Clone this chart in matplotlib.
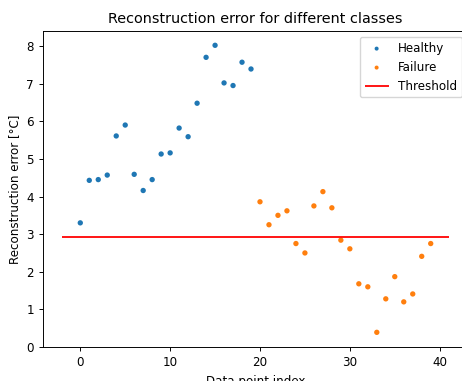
import matplotlib
matplotlib.use("Agg")
import matplotlib.pyplot as plt

healthy_x = list(range(0, 20))
healthy_y = [3.30, 4.43, 4.45, 4.57, 5.61, 5.90, 4.59, 4.16, 4.45, 5.13,
             5.16, 5.82, 5.59, 6.48, 7.70, 8.02, 7.02, 6.95, 7.57, 7.39]
failure_x = list(range(20, 40))
failure_y = [3.86, 3.25, 3.50, 3.62, 2.75, 2.50, 3.75, 4.13, 3.70, 2.84,
             2.61, 1.68, 1.60, 0.39, 1.28, 1.87, 1.20, 1.41, 2.41, 2.75]
threshold = 2.93
thr_range = [-2, 41]

k = 0.86
plt.rcParams.update({
    "font.size": 10 * k,
    "axes.titlesize": 12 * k,
    "axes.linewidth": 0.8 * k,
    "xtick.major.width": 0.8 * k,
    "ytick.major.width": 0.8 * k,
    "xtick.major.size": 3.5 * k,
    "ytick.major.size": 3.5 * k,
})

fig = plt.figure(figsize=(4.62, 3.81), dpi=100)
ax = fig.add_axes([43/462, 34/381, (468-43)/462, (347-31)/381])
ax.scatter(healthy_x, healthy_y, s=20 * k * k, color="#1f77b4", label="Healthy", edgecolors="none")
ax.scatter(failure_x, failure_y, s=20 * k * k, color="#ff7f0e", label="Failure", edgecolors="none")
ax.hlines(threshold, thr_range[0], thr_range[1], color="red", linewidth=1.5 * k, label="Threshold")
ax.set_ylim(0, 8.4)
ax.set_xlim(-4.15, 43.15)
ax.set_title("Reconstruction error for different classes")
ax.set_xlabel("Data point index")
ax.set_ylabel("Reconstruction error [°C]")
ax.legend(loc="upper right", markerscale=0.75)
fig.savefig("out.png", dpi=100)
